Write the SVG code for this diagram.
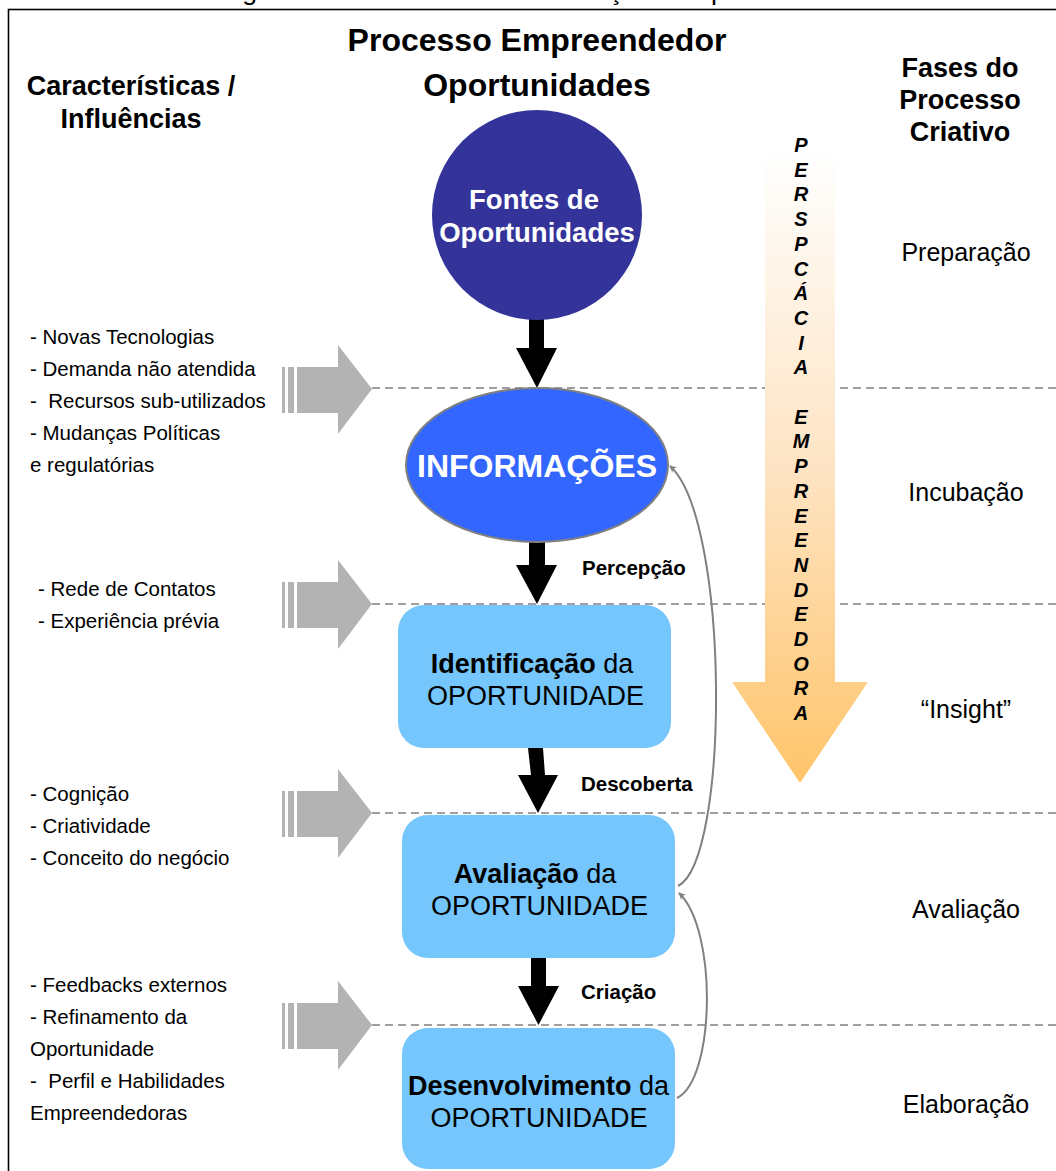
<svg xmlns="http://www.w3.org/2000/svg" width="1056" height="1171" viewBox="0 0 1056 1171">
<defs>
<style>
text{font-family:"Liberation Sans",Arial,sans-serif;fill:#000}
.hd{font-size:27px;font-weight:bold}
.ttl{font-size:32px;font-weight:bold;text-anchor:middle}
.side{font-size:20.5px;white-space:pre}
.ph{font-size:25px;text-anchor:middle}
.lbl{font-size:20.5px;font-weight:bold}
.box{fill:#75C6FC}
.bt{font-size:27px;text-anchor:middle}
.b{font-weight:bold}
.wt{fill:#fff;font-weight:bold;text-anchor:middle}
.vl{font-size:20px;font-weight:bold;font-style:italic;text-anchor:middle}
.dash{stroke:#808080;stroke-width:1.6;stroke-dasharray:8 5;fill:none}
.blk{fill:#000}
.gry{fill:#B3B3B3}
.fb{fill:none;stroke:#808080;stroke-width:2}
</style>
<marker id="ah" viewBox="0 0 10 10" refX="9" refY="5" markerWidth="7" markerHeight="7" markerUnits="userSpaceOnUse" orient="auto">
<path d="M0,0 L10,5 L0,10 L3,5 z" fill="#808080"/>
</marker>
<linearGradient id="og" x1="0" y1="150" x2="0" y2="783" gradientUnits="userSpaceOnUse">
<stop offset="0" stop-color="#FFFFFF"/>
<stop offset="0.5" stop-color="#FEE4C4"/>
<stop offset="1" stop-color="#FFC46A"/>
</linearGradient>
<g id="sidearrow">
<rect x="282" y="367" width="3" height="46"/>
<rect x="288" y="367" width="6" height="46"/>
<polygon points="297,367 338,367 338,345 372,389 338,434 338,413 297,413"/>
</g>
</defs>
<rect width="1056" height="1171" fill="#fff"/>
<text x="220" y="-0.5" style="font-size:26.7px">Figura 1 – Processo de identificação de oportunidades</text>
<rect x="8.5" y="9.5" width="1100" height="1200" fill="none" stroke="#000" stroke-width="1.6"/>

<g id="headers">
<text class="ttl" x="537" y="51">Processo Empreendedor</text>
<text class="ttl" x="537" y="96">Oportunidades</text>
<text class="hd" x="131" y="95" text-anchor="middle">Características /</text>
<text class="hd" x="131" y="128" text-anchor="middle">Influências</text>
<text class="hd" x="960" y="77" text-anchor="middle">Fases do</text>
<text class="hd" x="960" y="109" text-anchor="middle">Processo</text>
<text class="hd" x="960" y="141" text-anchor="middle">Criativo</text>
</g>

<g id="dividers">
<line class="dash" x1="372" y1="388" x2="1056" y2="388"/>
<line class="dash" x1="372" y1="604" x2="1056" y2="604"/>
<line class="dash" x1="372" y1="813" x2="1056" y2="813"/>
<line class="dash" x1="372" y1="1025" x2="1056" y2="1025"/>
</g>

<g id="perspicacia">
<polygon points="765,140 835,140 835,682 868,682 800,783 732,682 765,682" fill="url(#og)"/>
<text class="vl" x="801" y="152">P<tspan x="801" dy="24.7">E</tspan><tspan x="801" dy="24.7">R</tspan><tspan x="801" dy="24.7">S</tspan><tspan x="801" dy="24.7">P</tspan><tspan x="801" dy="24.7">C</tspan><tspan x="801" dy="24.7">Á</tspan><tspan x="801" dy="24.7">C</tspan><tspan x="801" dy="24.7">I</tspan><tspan x="801" dy="24.7">A</tspan><tspan x="801" dy="49.4">E</tspan><tspan x="801" dy="24.7">M</tspan><tspan x="801" dy="24.7">P</tspan><tspan x="801" dy="24.7">R</tspan><tspan x="801" dy="24.7">E</tspan><tspan x="801" dy="24.7">E</tspan><tspan x="801" dy="24.7">N</tspan><tspan x="801" dy="24.7">D</tspan><tspan x="801" dy="24.7">E</tspan><tspan x="801" dy="24.7">D</tspan><tspan x="801" dy="24.7">O</tspan><tspan x="801" dy="24.7">R</tspan><tspan x="801" dy="24.7">A</tspan></text>
</g>

<g id="phases">
<text class="ph" x="966" y="261">Preparação</text>
<text class="ph" x="966" y="501">Incubação</text>
<text class="ph" x="966" y="718">“Insight”</text>
<text class="ph" x="966" y="918">Avaliação</text>
<text class="ph" x="966" y="1113">Elaboração</text>
</g>

<g id="influences">
<g class="gry">
<use href="#sidearrow"/>
<use href="#sidearrow" y="215"/>
<use href="#sidearrow" y="424"/>
<use href="#sidearrow" y="636"/>
</g>
<text class="side" x="30" y="344">- Novas Tecnologias</text>
<text class="side" x="30" y="376">- Demanda não atendida</text>
<text class="side" x="30" y="408">-  Recursos sub-utilizados</text>
<text class="side" x="30" y="440">- Mudanças Políticas</text>
<text class="side" x="30" y="472">e regulatórias</text>
<text class="side" x="38" y="596">- Rede de Contatos</text>
<text class="side" x="38" y="628">- Experiência prévia</text>
<text class="side" x="30" y="801">- Cognição</text>
<text class="side" x="30" y="833">- Criatividade</text>
<text class="side" x="30" y="865">- Conceito do negócio</text>
<text class="side" x="30" y="992">- Feedbacks externos</text>
<text class="side" x="30" y="1024">- Refinamento da</text>
<text class="side" x="30" y="1056">Oportunidade</text>
<text class="side" x="30" y="1088">-  Perfil e Habilidades</text>
<text class="side" x="30" y="1120">Empreendedoras</text>
</g>

<g id="connectors">
<polygon class="blk" points="529,316 544,316 544,348 557,348 537,388 516,348 529,348"/>
<polygon class="blk" points="529,540 545,540 545,565 557,565 537,604 516,565 529,565"/>
<polygon class="blk" points="528,748 543,748 545,775 558,775 538,813 518,775 531,775"/>
<polygon class="blk" points="531,958 546,958 546,986 559,986 538.5,1025 518,986 531,986"/>
<text class="lbl" x="582" y="575">Percepção</text>
<text class="lbl" x="581" y="791">Descoberta</text>
<text class="lbl" x="581" y="999">Criação</text>
<path class="fb" d="M678,886 C730,860 730,520 670,466" marker-end="url(#ah)"/>
<path class="fb" d="M677,1098 C715,1080 718,930 679,893" marker-end="url(#ah)"/>
</g>

<g id="n-fontes">
<circle cx="537" cy="215" r="105" fill="#333399"/>
<text class="wt" x="534" y="209" style="font-size:27.5px">Fontes de</text>
<text class="wt" x="537" y="242" style="font-size:27.5px">Oportunidades</text>
</g>

<g id="n-info">
<ellipse cx="537" cy="465" rx="131" ry="77" fill="#3366FF" stroke="#808080" stroke-width="2"/>
<text class="wt" x="537" y="477" style="font-size:32px">INFORMAÇÕES</text>
</g>

<g id="n-ident">
<rect class="box" x="398" y="605" width="273" height="143" rx="26"/>
<text class="bt" x="532" y="673"><tspan class="b">Identificação</tspan> da</text>
<text class="bt" x="535.5" y="705">OPORTUNIDADE</text>
</g>

<g id="n-aval">
<rect class="box" x="402" y="815" width="273" height="143" rx="26"/>
<text class="bt" x="535" y="883"><tspan class="b">Avaliação</tspan> da</text>
<text class="bt" x="539.5" y="915">OPORTUNIDADE</text>
</g>

<g id="n-desenv">
<rect class="box" x="402" y="1028" width="273" height="141" rx="26"/>
<text class="bt" x="538.5" y="1095"><tspan class="b">Desenvolvimento</tspan> da</text>
<text class="bt" x="539" y="1127">OPORTUNIDADE</text>
</g>
</svg>
